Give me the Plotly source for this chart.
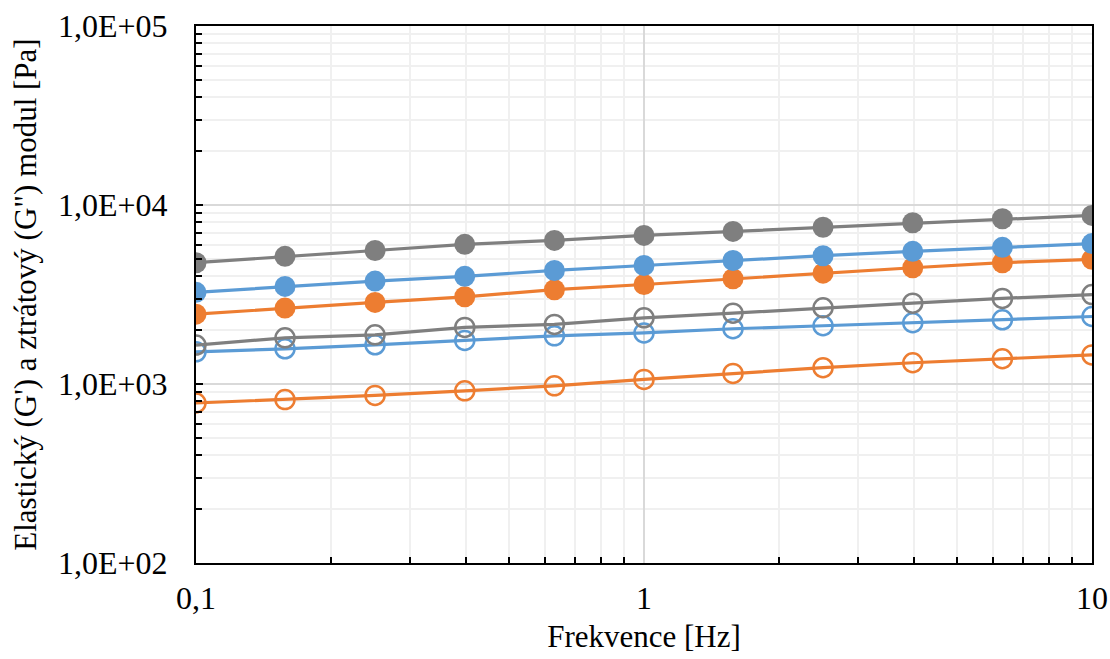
import plotly.graph_objects as go

freq = [0.1, 0.158, 0.251, 0.398, 0.631, 1.0, 1.58, 2.51, 3.98, 6.31, 10.0]

g1_gray = [4760, 5165, 5570, 6026, 6340, 6762, 7116, 7513, 7956, 8379, 8748]
g1_blue = [3250, 3509, 3758, 3993, 4308, 4592, 4897, 5208, 5508, 5800, 6090]
g1_orange = [2455, 2655, 2856, 3071, 3363, 3597, 3871, 4163, 4462, 4759, 4970]
g2_gray = [1650, 1811, 1883, 2070, 2153, 2344, 2488, 2667, 2830, 3008, 3160]
g2_blue = [1512, 1573, 1656, 1750, 1858, 1930, 2035, 2115, 2199, 2284, 2383]
g2_orange = [783, 818, 863, 916, 977, 1061, 1146, 1233, 1314, 1384, 1453]

y_tickvals = [100, 1000, 10000, 100000]
y_ticktext = ["1,0E+02", "1,0E+03", "1,0E+04", "1,0E+05"]
x_tickvals = [0.1, 1, 10]
x_ticktext = ["0,1", "1", "10"]

GRAY = "#7f7f7f"
BLUE = "#5b9bd5"
ORANGE = "#ed7d31"

fig = go.Figure()

def add_filled(y, color):
    fig.add_trace(go.Scatter(x=freq, y=y, mode="lines+markers",
                             line=dict(color=color, width=3.2),
                             marker=dict(symbol="circle", size=21, color=color),
                             showlegend=False))

def add_open(y, color):
    fig.add_trace(go.Scatter(x=freq, y=y, mode="lines+markers",
                             line=dict(color=color, width=3.2),
                             marker=dict(symbol="circle-open", size=19, color=color,
                                         line=dict(color=color, width=2.5)),
                             showlegend=False))

add_open(g2_orange, ORANGE)
add_open(g2_blue, BLUE)
add_open(g2_gray, GRAY)
add_filled(g1_orange, ORANGE)
add_filled(g1_blue, BLUE)
add_filled(g1_gray, GRAY)

x_minor = [m * d for d in [0.1, 1] for m in range(2, 10)]
y_minor = [m * d for d in [100, 1000, 10000] for m in range(2, 10)]

font_family = "Liberation Serif"

fig.update_layout(
    width=1110, height=659,
    margin=dict(l=196, r=18, t=26, b=96),
    paper_bgcolor="white", plot_bgcolor="white",
    font=dict(family=font_family, size=32, color="#000000"),
    xaxis=dict(
        type="log", range=[-1, 1], automargin=False,
        tickvals=x_tickvals, ticktext=x_ticktext,
        showline=True, linecolor="black", linewidth=2, mirror=True,
        ticks="", showgrid=True, gridcolor="#d9d9d9", gridwidth=1.5,
        zeroline=False, ticklabelstandoff=6,
        tickfont=dict(size=32, family=font_family),
        title=dict(text="Frekvence [Hz]", font=dict(size=31, family=font_family), standoff=10),
        minor=dict(tickvals=x_minor, ticks="inside", ticklen=6, tickwidth=1.5,
                   tickcolor="black", showgrid=True, gridcolor="#f0f0f0", gridwidth=1.5),
    ),
    yaxis=dict(
        type="log", range=[2, 5], automargin=False,
        tickvals=y_tickvals, ticktext=y_ticktext,
        showline=True, linecolor="black", linewidth=2, mirror=True,
        ticks="inside", ticklen=7, tickwidth=1.5, tickcolor="black",
        showgrid=True, gridcolor="#d9d9d9", gridwidth=1.5,
        zeroline=False, ticklabelstandoff=20,
        tickfont=dict(size=32, family=font_family),
        title=dict(text="Elastický (G') a ztrátový (G\") modul [Pa]",
                   font=dict(size=31, family=font_family), standoff=12),
        minor=dict(tickvals=y_minor, ticks="inside", ticklen=6, tickwidth=1.5,
                   tickcolor="black", showgrid=True, gridcolor="#f0f0f0", gridwidth=1.5),
    ),
)

fig.write_html("out.html")
